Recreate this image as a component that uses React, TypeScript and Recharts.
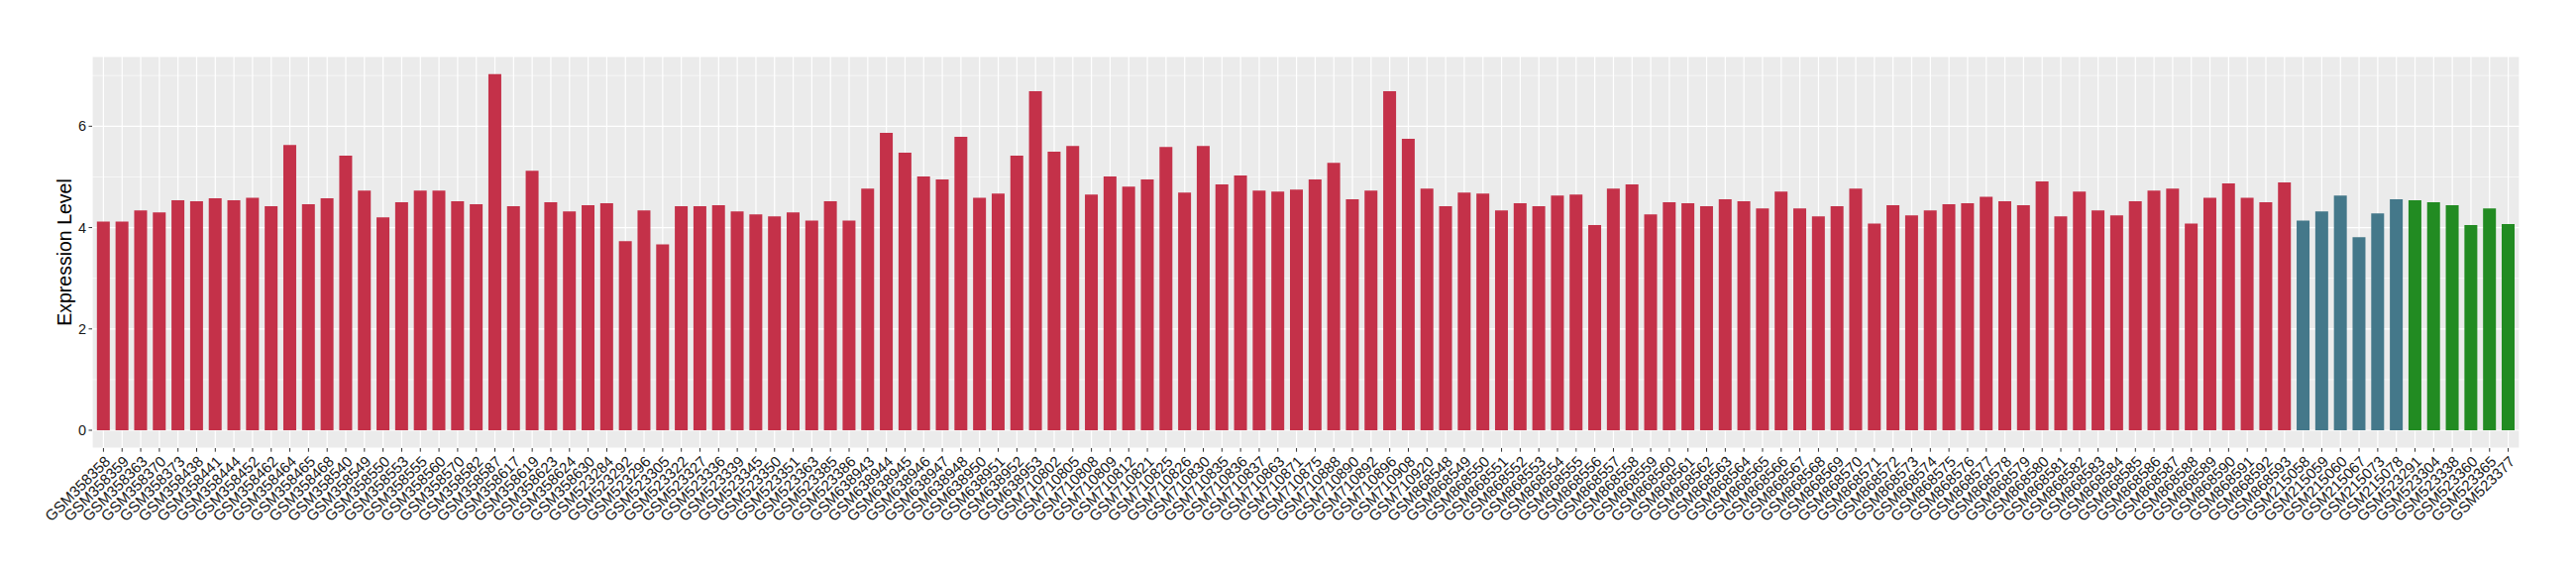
import React from 'react';
import { BarChart, Bar, XAxis, YAxis, CartesianGrid, Cell } from 'recharts';

// ─── Data ─────────────────────────────────────────────────────────────────────
const redSamples = [
  'GSM358358', 'GSM358359', 'GSM358363', 'GSM358370', 'GSM358373', 'GSM358438', 'GSM358441', 'GSM358444',
  'GSM358452', 'GSM358462', 'GSM358464', 'GSM358465', 'GSM358468', 'GSM358540', 'GSM358549', 'GSM358550',
  'GSM358553', 'GSM358555', 'GSM358560', 'GSM358570', 'GSM358582', 'GSM358587', 'GSM358617', 'GSM358619',
  'GSM358623', 'GSM358624', 'GSM358630', 'GSM523284', 'GSM523292', 'GSM523296', 'GSM523305', 'GSM523322',
  'GSM523327', 'GSM523336', 'GSM523339', 'GSM523345', 'GSM523350', 'GSM523351', 'GSM523363', 'GSM523385',
  'GSM523386', 'GSM638943', 'GSM638944', 'GSM638945', 'GSM638946', 'GSM638947', 'GSM638948', 'GSM638950',
  'GSM638951', 'GSM638952', 'GSM638953', 'GSM710802', 'GSM710805', 'GSM710808', 'GSM710809', 'GSM710812',
  'GSM710821', 'GSM710825', 'GSM710826', 'GSM710830', 'GSM710835', 'GSM710836', 'GSM710837', 'GSM710863',
  'GSM710871', 'GSM710875', 'GSM710888', 'GSM710890', 'GSM710892', 'GSM710896', 'GSM710908', 'GSM710920',
  'GSM868548', 'GSM868549', 'GSM868550', 'GSM868551', 'GSM868552', 'GSM868553', 'GSM868554', 'GSM868555',
  'GSM868556', 'GSM868557', 'GSM868558', 'GSM868559', 'GSM868560', 'GSM868561', 'GSM868562', 'GSM868563',
  'GSM868564', 'GSM868565', 'GSM868566', 'GSM868567', 'GSM868568', 'GSM868569', 'GSM868570', 'GSM868571',
  'GSM868572', 'GSM868573', 'GSM868574', 'GSM868575', 'GSM868576', 'GSM868577', 'GSM868578', 'GSM868579',
  'GSM868580', 'GSM868581', 'GSM868582', 'GSM868583', 'GSM868584', 'GSM868585', 'GSM868586', 'GSM868587',
  'GSM868588', 'GSM868589', 'GSM868590', 'GSM868591', 'GSM868592', 'GSM868593',
];
const redValues = [
  4.12, 4.12, 4.34, 4.30, 4.54, 4.52, 4.58, 4.54, 4.59, 4.42, 5.63, 4.46, 4.58, 5.42, 4.73, 4.20,
  4.50, 4.73, 4.73, 4.52, 4.46, 7.03, 4.42, 5.12, 4.50, 4.32, 4.44, 4.48, 3.73, 4.34, 3.67, 4.42,
  4.42, 4.44, 4.32, 4.26, 4.22, 4.30, 4.14, 4.52, 4.14, 4.77, 5.87, 5.48, 5.01, 4.95, 5.79, 4.59,
  4.67, 5.42, 6.69, 5.50, 5.61, 4.65, 5.01, 4.81, 4.95, 5.59, 4.69, 5.61, 4.85, 5.03, 4.73, 4.71,
  4.75, 4.95, 5.28, 4.56, 4.73, 6.69, 5.75, 4.77, 4.42, 4.69, 4.67, 4.34, 4.48, 4.42, 4.63, 4.65,
  4.05, 4.77, 4.85, 4.26, 4.50, 4.48, 4.42, 4.56, 4.52, 4.38, 4.71, 4.38, 4.22, 4.42, 4.77, 4.08,
  4.44, 4.24, 4.34, 4.46, 4.48, 4.61, 4.52, 4.44, 4.91, 4.22, 4.71, 4.34, 4.24, 4.52, 4.73, 4.77,
  4.08, 4.59, 4.87, 4.59, 4.50, 4.89,
];
const blueSamples = ['GSM215058', 'GSM215059', 'GSM215060', 'GSM215067', 'GSM215073', 'GSM215078'];
const blueValues = [4.14, 4.32, 4.63, 3.81, 4.28, 4.56];
const greenSamples = ['GSM523291', 'GSM523304', 'GSM523338', 'GSM523360', 'GSM523365', 'GSM523377'];
const greenValues = [4.54, 4.50, 4.44, 4.05, 4.38, 4.07];

const yTicks = [0, 2, 4, 6];
const yMinorTicks = [1, 3, 5, 7];

const COLORS = { red: '#C43149', blue: '#44788A', green: '#228B22' };

const data = [
  ...redSamples.map((s, i) => ({ sample: s, value: redValues[i], color: COLORS.red })),
  ...blueSamples.map((s, i) => ({ sample: s, value: blueValues[i], color: COLORS.blue })),
  ...greenSamples.map((s, i) => ({ sample: s, value: greenValues[i], color: COLORS.green })),
];

const FONT = '"Liberation Sans", Arial, Helvetica, sans-serif';

// ─── Rotated x tick ───────────────────────────────────────────────────────────
const SampleTick = ({ x, y, payload }: any) => (
  <g transform={`translate(${x},${y})`}>
    <text
      x={0} y={0} dy="0.72em" textAnchor="end" transform="rotate(-45)"
      fontSize={15.2} fill="#1A1A1A" fontFamily={FONT}
    >
      {payload.value}
    </text>
  </g>
);

const YTitle = ({ viewBox }: any) => {
  const cy = viewBox.y + viewBox.height / 2;
  const cx = 57;
  return (
    <text
      x={cx} y={cy} textAnchor="middle" dominantBaseline="central"
      transform={`rotate(-90, ${cx}, ${cy})`}
      fontSize={19.5} fill="#000" fontFamily={FONT}
    >
      Expression Level
    </text>
  );
};

export default function App() {
  return (
    <div style={{ width: 2584, height: 564, background: '#fff' }}>
      <BarChart
        width={2584} height={564} data={data}
        margin={{ top: 49, right: 49, bottom: 0, left: 0 }}
        barCategoryGap="15%"
      >
        <CartesianGrid
          fill="#EBEBEB" stroke="#FFFFFF" strokeWidth={0.6}
          vertical={false} horizontalValues={yMinorTicks}
        />
        <CartesianGrid stroke="#FFFFFF" strokeWidth={1.2} />
        <XAxis
          dataKey="sample" interval={0} height={120}
          padding={{ left: 2, right: 2 }}
          axisLine={false} tickSize={3.7} tickMargin={3}
          tickLine={{ stroke: '#333333', strokeWidth: 1 }}
          tick={<SampleTick />}
        />
        <YAxis
          type="number" width={85} domain={[-0.352, 7.376]} ticks={yTicks}
          allowDataOverflow axisLine={false} tickSize={3.5} tickMargin={2.5}
          tickLine={{ stroke: '#333333', strokeWidth: 1 }}
          tick={{ fontSize: 14.5, fill: '#1A1A1A', fontFamily: FONT }}
          label={<YTitle />}
        />
        <Bar dataKey="value" isAnimationActive={false}>
          {data.map((d) => (
            <Cell key={d.sample} fill={d.color} />
          ))}
        </Bar>
      </BarChart>
    </div>
  );
}
